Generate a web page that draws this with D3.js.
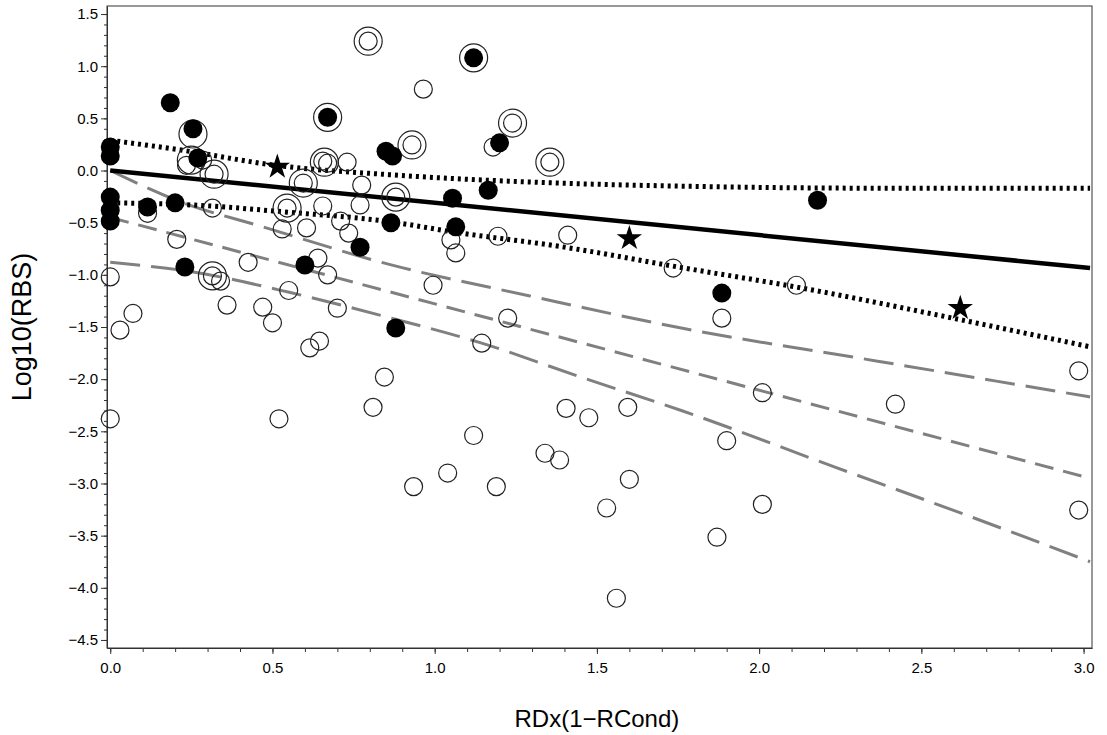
<!DOCTYPE html>
<html>
<head>
<meta charset="utf-8">
<script src="https://cdn.jsdelivr.net/npm/d3@7"></script>
<style>
  body { margin: 0; background: #fff; }
  .eje text { font-family: Arial, 'Liberation Sans', sans-serif; font-size: 15px; fill: #000; }
  .eje path, .eje line { stroke: #333; }
  .titulo-eje { font-family: Arial, 'Liberation Sans', sans-serif; font-size: 24px; fill: #000; }
</style>
</head>
<body>
<div id="graf"></div>
<script>
// I. Data
openPts = [
  [0.795, 1.24], [1.24, 0.455], [0.93, 0.245], [1.355, 0.08], [0.655, 0.09], [0.67, 0.07],
  [0.595, -0.12], [0.32, -0.035], [0.88, -0.255], [0.545, -0.36], [0.315, -1.01],
  [0.235, 0.05], [0.285, 0.10], [0.965, 0.78], [1.18, 0.225], [0.73, 0.08], [0.775, -0.14],
  [0.77, -0.33], [0.655, -0.34], [0.605, -0.55], [0.53, -0.56], [0.71, -0.485], [0.735, -0.60],
  [0.315, -0.36], [0.115, -0.41], [0.205, -0.66], [0.0, -1.02], [0.34, -1.06], [0.03, -1.53],
  [0.07, -1.37], [0.36, -1.29], [0.425, -0.88], [0.47, -1.31], [0.50, -1.46], [0.55, -1.15],
  [0.615, -1.70], [0.645, -1.635], [0.64, -0.84], [0.67, -1.00], [0.70, -1.32], [0.0, -2.38],
  [0.52, -2.38], [0.845, -1.98], [0.81, -2.27], [0.995, -1.10], [1.225, -1.415], [1.145, -1.655],
  [1.05, -0.665], [1.065, -0.79], [1.195, -0.63], [1.41, -0.62], [1.735, -0.935], [2.115, -1.10],
  [1.885, -1.415], [2.985, -1.92], [1.405, -2.28], [1.475, -2.37], [1.595, -2.27], [0.935, -3.03],
  [1.04, -2.90], [1.12, -2.54], [1.19, -3.03], [1.34, -2.71], [1.385, -2.775], [2.01, -2.13],
  [2.42, -2.24], [1.90, -2.59], [1.60, -2.96], [1.53, -3.235], [2.01, -3.20], [1.87, -3.515],
  [1.56, -4.10], [2.985, -3.255]
]

filledPts = [
  [0, 0.225], [0, 0.14], [0, -0.255], [0, -0.38], [0, -0.485], [0.185, 0.65], [0.255, 0.40],
  [0.27, 0.12], [0.115, -0.35], [0.20, -0.31], [0.23, -0.925], [0.67, 0.51], [0.60, -0.905],
  [0.77, -0.735], [0.865, -0.50], [0.85, 0.185], [0.87, 0.14], [0.88, -1.51], [1.055, -0.265],
  [1.065, -0.54], [1.165, -0.19], [1.20, 0.265], [1.12, 1.08], [2.18, -0.285], [1.885, -1.175]
]

ringPts = [
  [0.795, 1.24], [0.67, 0.51], [1.12, 1.08], [1.24, 0.455], [0.93, 0.245], [1.355, 0.08],
  [0.66, 0.08], [0.595, -0.12], [0.32, -0.035], [0.25, 0.10], [0.255, 0.35], [0.88, -0.255],
  [0.545, -0.36], [0.315, -1.01]
]

starPts = [[0.515, 0.035], [1.60, -0.65], [2.62, -1.32]]

fitLine    = [[0, 0], [3.02, -0.935]]
fitUpper   = [[0, 0.29], [0.21, 0.20], [0.51, 0.05], [0.86, -0.04], [1.29, -0.11], [1.76, -0.15], [2.43, -0.17], [3.02, -0.17]]
fitLower   = [[0, -0.31], [0.25, -0.33], [0.55, -0.40], [0.86, -0.49], [1.06, -0.59], [1.39, -0.73], [1.76, -0.93], [2.12, -1.12], [2.62, -1.43], [3.02, -1.69]]
fit2Line   = [[0, -0.45], [3.02, -2.95]]
fit2Upper  = [[0, 0], [0.225, -0.31], [0.46, -0.53], [0.86, -0.90], [1.29, -1.20], [1.76, -1.51], [2.37, -1.83], [3.02, -2.17]]
fit2Lower  = [[0, -0.88], [0.25, -0.97], [0.555, -1.17], [0.86, -1.41], [1.14, -1.65], [1.45, -1.98], [1.76, -2.30], [2.24, -2.85], [2.61, -3.27], [3.02, -3.75]]

xTicks = [0, 0.5, 1.0, 1.5, 2.0, 2.5, 3.0]
yTicks = [1.5, 1.0, 0.5, 0.0, -0.5, -1.0, -1.5, -2.0, -2.5, -3.0, -3.5, -4.0, -4.5]

// II. Setup
ancho_total = 1107
alto_total = 735
margins = { top: 6, left: 107, right: 15, bottom: 87 }
ancho = ancho_total - margins.left - margins.right
alto = alto_total - margins.top - margins.bottom

svg = d3.select('#graf').append('svg')
        .attr('width', ancho_total)
        .attr('height', alto_total)

g = svg.append('g')
       .attr('transform', `translate(${ margins.left }, ${ margins.top })`)

x = d3.scaleLinear().domain([-0.01, 3.026]).range([0, ancho])
y = d3.scaleLinear().domain([-4.577, 1.577]).range([alto, 0])

fmt = d3.format('.1f')

// minor ticks
g.append('g')
 .attr('class', 'eje')
 .attr('transform', `translate(0, ${ alto })`)
 .call(d3.axisBottom(x).tickValues(d3.range(0, 31).map(d => d / 10)).tickSize(4).tickFormat(''))
 .select('.domain').remove()
g.append('g')
 .attr('class', 'eje')
 .call(d3.axisLeft(y).tickValues(d3.range(-45, 16).map(d => d / 10)).tickSize(3).tickFormat(''))
 .select('.domain').remove()

// major ticks
g.append('g')
 .attr('class', 'eje')
 .attr('transform', `translate(0, ${ alto })`)
 .call(d3.axisBottom(x).tickValues(xTicks).tickSize(6).tickPadding(8).tickFormat(fmt).tickSizeOuter(0))
g.append('g')
 .attr('class', 'eje')
 .call(d3.axisLeft(y).tickValues(yTicks).tickSize(6).tickPadding(3).tickFormat(fmt).tickSizeOuter(0))

// frame
g.append('rect')
 .attr('width', ancho).attr('height', alto)
 .attr('fill', 'none').attr('stroke', '#333')

// III. Lines
linea = d3.line().x(d => x(d[0])).y(d => y(d[1])).curve(d3.curveMonotoneX)

function trazo(data, color, w, dash) {
  g.append('path')
   .datum(data)
   .attr('d', linea)
   .attr('fill', 'none')
   .attr('stroke', color)
   .attr('stroke-width', w)
   .attr('stroke-dasharray', dash)
}

trazo(fit2Upper, '#808080', 3, '30,11')
trazo(fit2Lower, '#808080', 3, '30,11')
trazo(fit2Line, '#808080', 3, '19,10')
trazo(fitUpper, '#000', 5, '3,4')
trazo(fitLower, '#000', 5, '3,4')
trazo(fitLine, '#000', 4.5, null)

// IV. Points
g.selectAll('.ring').data(ringPts).enter()
 .append('circle').attr('class', 'ring')
 .attr('cx', d => x(d[0])).attr('cy', d => y(d[1])).attr('r', 14)
 .attr('fill', 'none').attr('stroke', '#222').attr('stroke-width', 1.2)

g.selectAll('.open').data(openPts).enter()
 .append('circle').attr('class', 'open')
 .attr('cx', d => x(d[0])).attr('cy', d => y(d[1])).attr('r', 9)
 .attr('fill', 'none').attr('stroke', '#222').attr('stroke-width', 1.2)

g.selectAll('.filled').data(filledPts).enter()
 .append('circle').attr('class', 'filled')
 .attr('cx', d => x(d[0])).attr('cy', d => y(d[1])).attr('r', 9.5)
 .attr('fill', '#000')

g.selectAll('.star').data(starPts).enter()
 .append('path').attr('class', 'star')
 .attr('transform', d => `translate(${ x(d[0]) }, ${ y(d[1]) })`)
 .attr('d', d3.symbol().type(d3.symbolStar).size(200))
 .attr('fill', '#000')

// V. Titles
svg.append('text')
   .attr('class', 'titulo-eje')
   .attr('x', margins.left + x(1.5)).attr('y', 727)
   .attr('text-anchor', 'middle')
   .text('RDx(1−RCond)')

svg.append('text')
   .attr('class', 'titulo-eje')
   .style('font-size', '27px')
   .attr('transform', 'translate(22, 327) rotate(-90)')
   .attr('dy', '0.35em')
   .attr('text-anchor', 'middle')
   .text('Log10(RBS)')
</script>
</body>
</html>
